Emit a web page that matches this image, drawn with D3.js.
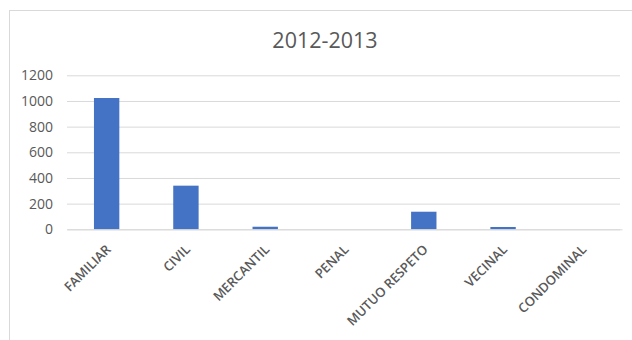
<!DOCTYPE html>
<html><head><meta charset="utf-8">
<script src="https://cdn.jsdelivr.net/npm/d3@7"></script>
<style>body{margin:0;background:#fff;}svg{display:block;}</style>
</head><body>
<script>
const categories = ["FAMILIAR","CIVIL","MERCANTIL","PENAL","MUTUO RESPETO","VECINAL","CONDOMINAL"];
const values = [1023, 340, 20, 0, 137, 18, 0];
const yTicks = [0, 200, 400, 600, 800, 1000, 1200];
const title = "2012-2013";

const W = 632, H = 340;
const svg = d3.select("body").append("svg").attr("width", W).attr("height", H);
svg.append("rect").attr("width", W).attr("height", H).attr("fill", "#fff");
svg.append("rect").attr("x", 9.5).attr("y", 10.5).attr("width", 640).attr("height", 360)
  .attr("fill", "none").attr("stroke", "#d9d9d9").attr("stroke-width", 1);

const font = "'Open Sans', 'Liberation Sans', sans-serif";
const x = d3.scaleBand().domain(categories).range([67, 622]).paddingInner(0.68).paddingOuter(0.34);
const y = d3.scaleLinear().domain([0, 1200]).range([229.3, 75.3]);

svg.append("text").attr("x", 325).attr("y", 47.5).attr("text-anchor", "middle")
  .attr("font-family", font).attr("font-size", 21.5).attr("fill", "#595959").text(title);

const yAxis = d3.axisLeft(y).tickValues(yTicks).tickFormat(d3.format("d")).tickSize(-(620 - 67)).tickPadding(14);
const gy = svg.append("g").attr("transform", "translate(67,0)").call(yAxis);
gy.select(".domain").remove();
gy.selectAll(".tick line").attr("stroke", "#d9d9d9").attr("stroke-width", 1);
gy.selectAll(".tick text").attr("font-family", font).attr("font-size", 14).attr("fill", "#595959");

svg.append("g").selectAll("rect").data(categories).join("rect")
  .attr("x", d => x(d)).attr("width", x.bandwidth())
  .attr("y", (d, i) => y(values[i])).attr("height", (d, i) => y(0) - y(values[i]))
  .attr("fill", "#4472c4");

const xAxis = d3.axisBottom(x).tickSize(0).tickPadding(0);
const gx = svg.append("g").attr("transform", "translate(0,229.3)").call(xAxis);
gx.select(".domain").attr("stroke", "#d9d9d9");
gx.selectAll(".tick text")
  .attr("font-family", font).attr("font-size", 13).attr("font-weight", 600).attr("fill", "#595959")
  .attr("text-anchor", "end").attr("dy", 0)
  .attr("transform", "translate(5,21) rotate(-45)");
</script>
</body></html>
